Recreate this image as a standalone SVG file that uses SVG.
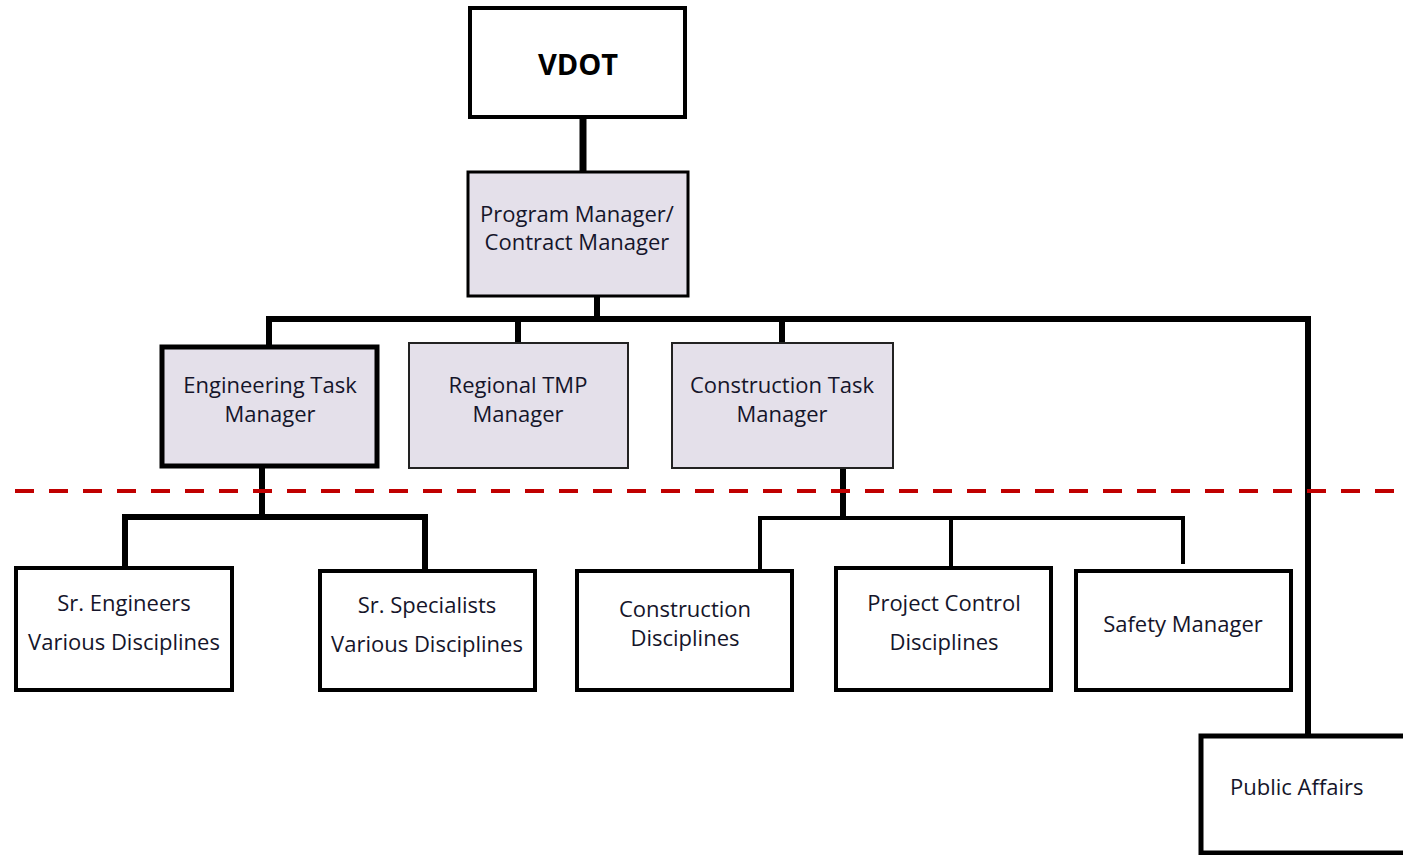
<svg xmlns="http://www.w3.org/2000/svg" width="1403" height="855" viewBox="0 0 1403 855">
<style>
.box{fill:#ffffff;stroke:#000;stroke-width:4}
.mgr{fill:#e4e0ea;stroke:#222;stroke-width:2}
.mgrb{fill:#e4e0ea;stroke:#000;stroke-width:5}
.pm{fill:#e4e0ea;stroke:#000;stroke-width:3}
.t{font-family:"Open Sans","Noto Sans",sans-serif;font-size:22px;fill:#15152a;text-anchor:middle}
.b{font-family:"Open Sans","Noto Sans",sans-serif;font-size:29px;font-weight:bold;fill:#000;text-anchor:middle}
.c{fill:none;stroke:#000;stroke-linejoin:miter;stroke-linecap:butt}
</style>
<rect width="1403" height="855" fill="#fff"/>
<g id="connectors">
<line class="c" x1="583" y1="117" x2="583" y2="172" stroke-width="7"/>
<line class="c" x1="597" y1="297" x2="597" y2="320" stroke-width="6"/>
<polyline class="c" points="269,346 269,319 1308,319 1308,735" stroke-width="6"/>
<line class="c" x1="518" y1="319" x2="518" y2="346" stroke-width="6"/>
<line class="c" x1="782" y1="319" x2="782" y2="346" stroke-width="6"/>
<line class="c" x1="262" y1="467" x2="262" y2="517" stroke-width="6"/>
<polyline class="c" points="125,567 125,517 425,517 425,570" stroke-width="6"/>
<line class="c" x1="843" y1="468" x2="843" y2="518" stroke-width="6"/>
<polyline class="c" points="760,570 760,518 1183,518 1183,564" stroke-width="4"/>
<line class="c" x1="951" y1="518" x2="951" y2="567" stroke-width="4"/>
<line x1="15" y1="491" x2="1403" y2="491" stroke="#c00000" stroke-width="4" stroke-dasharray="19 15"/>
</g>
<g id="vdot"><rect class="box" x="470" y="8" width="215" height="109"/><text class="b" x="578" y="75">VDOT</text></g>
<g id="pm"><rect class="pm" x="468" y="172" width="220" height="124"/><text class="t" x="577" y="222">Program Manager/</text><text class="t" x="577" y="250">Contract Manager</text></g>
<g id="eng"><rect class="mgrb" x="162" y="347" width="215" height="119"/><text class="t" x="270" y="393">Engineering Task</text><text class="t" x="270" y="422">Manager</text></g>
<g id="tmp"><rect class="mgr" x="409" y="343" width="219" height="125"/><text class="t" x="518" y="393">Regional TMP</text><text class="t" x="518" y="422">Manager</text></g>
<g id="ctm"><rect class="mgr" x="672" y="343" width="221" height="125"/><text class="t" x="782" y="393">Construction Task</text><text class="t" x="782" y="422">Manager</text></g>
<g id="sreng"><rect class="box" x="16" y="568" width="216" height="122"/><text class="t" x="124" y="611">Sr. Engineers</text><text class="t" x="124" y="650">Various Disciplines</text></g>
<g id="srspec"><rect class="box" x="320" y="571" width="215" height="119"/><text class="t" x="427" y="613">Sr. Specialists</text><text class="t" x="427" y="652">Various Disciplines</text></g>
<g id="cd"><rect class="box" x="577" y="571" width="215" height="119"/><text class="t" x="685" y="617">Construction</text><text class="t" x="685" y="646">Disciplines</text></g>
<g id="pc"><rect class="box" x="836" y="568" width="215" height="122"/><text class="t" x="944" y="611">Project Control</text><text class="t" x="944" y="650">Disciplines</text></g>
<g id="safety"><rect class="box" x="1076" y="571" width="215" height="119"/><text class="t" x="1183" y="632">Safety Manager</text></g>
<g id="pa"><rect class="box" x="1201" y="736" width="210" height="117" style="stroke-width:5"/><text class="t" x="1230" y="795" style="text-anchor:start">Public Affairs</text></g>
</svg>
